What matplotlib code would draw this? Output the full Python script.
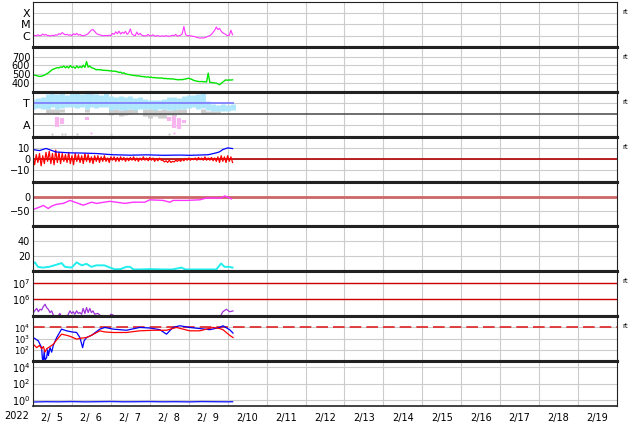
import numpy as np
import matplotlib.pyplot as plt
from matplotlib.ticker import NullLocator

nan = np.nan

# hourly time axis, hours since 2022-02-05 00:00
hours = np.arange(124)

# GOES X-ray flux, in units of 1e-6 W/m2 (C1 = 1)
xray_c = [1.0, 1.1, 0.95, 1.2, 1.0, 1.05, 1.4, 1.1, 1.3, 1.0,
          1.0, 0.95, 1.1, 1.0, 1.2, 1.1, 1.5, 1.3, 1.9, 1.4,
          1.2, 1.3, 1.1, 1.2, 1.0, 1.5, 1.2, 1.6, 1.1, 1.3,
          1.0, 1.0, 1.1, 1.2, 1.5, 2.2, 3.2, 3.5, 2.4, 1.6,
          1.3, 1.2, 1.1, 1.0, 1.0, 1.05, 1.0, 1.1, 1.0, 1.6,
          1.3, 2.2, 1.5, 2.5, 1.4, 2.0, 1.6, 2.4, 1.3, 1.8,
          4.0, 1.4, 1.1, 1.0, 2.1, 1.2, 1.6, 1.1, 1.0, 0.95,
          1.0, 1.3, 0.95, 1.0, 1.2, 0.9, 0.95, 1.0, 0.9, 0.9,
          0.95, 0.9, 1.0, 0.9, 0.9, 0.95, 1.1, 1.0, 1.3, 0.9,
          1.0, 1.1, 1.5, 6.5, 1.3, 1.0, 1.0, 0.95, 0.9, 0.85,
          0.8, 0.7, 0.65, 0.6, 0.65, 0.6, 0.7, 0.75, 0.9, 1.0,
          1.3, 2.0, 3.0, 6.0, 3.5, 4.5, 2.5, 1.8, 1.5, 1.2,
          1.0, 1.1, 3.0, 1.2]

# solar wind speed (km/s)
speed = [489, 485, 480, 475, 470, 472, 478, 485, 495, 505,
         520, 535, 550, 557, 565, 572, 568, 580, 575, 590,
         570, 585, 568, 595, 575, 580, 565, 590, 570, 585,
         572, 600, 575, 641, 578, 590, 572, 565, 558, 546,
         550, 545, 548, 540, 542, 538, 540, 534, 536, 530,
         532, 528, 525, 515, 520, 505, 512, 500, 495, 492,
         489, 485, 482, 480, 476, 478, 472, 470, 468, 465,
         462, 465, 458, 462, 455, 458, 452, 455, 450, 452,
         450, 445, 448, 442, 445, 440, 443, 438, 435, 433,
         431, 435, 432, 438, 440, 445, 450, 442, 435, 425,
         420, 415, 412, 410, 412, 408, 410, 405, 508, 402,
         400, 398, 395, 393, 385, 374, 390, 405, 420, 431,
         425, 430, 428, 431]

# IMF sector (T / A), 3-hour bins: range of the scattered points
sector_t = np.arange(0, 124, 3)
toward_lo = [0.5, 0.55, 0.5, 0.45, 0.6, 0.5, 0.55, 0.6, 0.65, 0.55, 0.6, 0.5, 0.6, 0.55, 0.65, 0.6,
             0.4, 0.45, 0.35, 0.4, 0.45, 0.4, 0.5, 0.45, 0.45, 0.4, 0.5, 0.45, 0.4, 0.35, 0.45, 0.5,
             0.55, 0.6, 0.5, 0.55, 0.35, 0.3, 0.25, 0.3, 0.3, 0.35]
toward_hi = [1.4, 1.45, 1.5, 1.8, 1.85, 1.8, 1.9, 1.75, 1.85, 1.9, 1.8, 1.85, 1.9, 1.8, 1.75, 1.85,
             1.6, 1.55, 1.65, 1.5, 1.6, 1.45, 1.5, 1.35, 1.3, 1.25, 1.3, 1.35, 1.5, 1.55, 1.45, 1.6,
             1.75, 1.7, 1.8, 1.85, 1.2, 0.9, 0.85, 0.9, 0.85, 0.9]
gray_lo = [nan, nan, nan, 0.1, 0.1, 0.0, 0.2, nan, nan, nan, nan, 0.2, nan, nan, nan, nan,
           -0.1, 0.0, -0.2, -0.1, 0.0, 0.1, nan, -0.2, -0.3, -0.2, -0.35, -0.3, -0.1, -0.2, 0.0, 0.1,
           nan, nan, nan, 0.0, 0.05, 0.0, 0.1, nan, nan, nan]
gray_hi = [nan, nan, nan, 0.5, 0.5, 0.45, 0.5, nan, nan, nan, nan, 0.5, nan, nan, nan, nan,
           0.45, 0.5, 0.4, 0.45, 0.5, 0.45, nan, 0.45, 0.45, 0.5, 0.4, 0.45, 0.4, 0.45, 0.45, 0.5,
           nan, nan, nan, 0.5, 0.3, 0.3, 0.3, nan, nan, nan]
away_lo = [nan] * 42
away_hi = [nan] * 42
for i, lo, hi in [(5, -1.1, -0.25), (6, -0.9, -0.3), (11, -0.5, -0.25), (28, -0.6, -0.25),
                  (29, -1.2, -0.2), (30, -1.3, -0.35), (31, -0.8, -0.5)]:
    away_lo[i] = lo
    away_hi[i] = hi
dots_t = [12, 18, 20, 27, 48, 84, 14, 24, 30, 39, 45, 60]
dots_v = [-1.75, -1.75, -1.75, -1.75, -1.75, -1.75, 1.95, 1.95, 1.95, 1.95, 1.95, 1.95]
pink_dots_t = [36, 87, 36]
pink_dots_v = [-1.65, -1.65, 1.9]

# IMF Bt and Bz (nT)
bt_t = [0, 4, 8, 10, 14, 18, 22, 30, 39, 49, 60, 70, 80, 90, 97, 104, 108, 113, 115, 117, 120, 123]
bt = [8.5, 7.6, 9.5, 8.5, 6.4, 6.0, 5.6, 5.4, 5.0, 3.9, 3.5, 3.8, 3.4, 3.6, 3.4, 3.7, 3.9, 5.6, 6.5, 8.5, 10, 9.4]
bz = [2, -5, 4, -3, 5, -6, 3, -4, 6, -2,
      7, -4, 5, -5, 8, -3, 6, -4, 5, -2,
      4, -3, 6, -4, 3, -5, 5, -2, 4, -3,
      3, -4, 5, -2, 4, -3, 2, -4, 3, -2,
      3, -3, 2, -2, 3, -2, 1, -3, 2, -1,
      2, -2, 1.5, -2, 2, -1, 1.5, -2, 1, -1.5,
      1.5, -1, 2, -1.5, 1, -2, 1, -1, 2, -1,
      1, -1.5, 1.5, -1, 1, -2, 0.5, -1.5, 1, -1,
      -1, -2.5, -1.5, -3, -1, -3, -2, -2.5, -1, -2,
      -0.5, -2, 0, -1.5, 0.5, -1, 1, -1, 0.5, -0.5,
      1, -1, 1.5, -0.5, 1, -1, 2, -1, 1, -1,
      1.5, -1.5, 1, -2, 2, -3, 3, -2, 2, -3,
      3, -2, 2, -3]

# Dst index (nT)
dst_t = [0.2, 3.3, 6.4, 9.4, 11.5, 14.6, 18.7, 22.8, 26.9, 31, 36.1, 39.2, 47.4, 51.5,
         56.6, 61.7, 68.9, 72, 80.2, 84.3, 86.4, 94.6, 102.8, 106.9, 116.1, 118.2, 120.2, 122.3]
dst = [-43, -37, -30, -40, -32, -26, -23, -13, -21, -29, -19, -23, -16, -19,
       -23, -19, -19, -11, -13, -19, -13, -13, -11, -5, -5, 2, -2, -8]

# proton density (/cc)
dens_t = [0, 1.2, 3, 6, 10, 14.6, 17.6, 19.7, 23.8, 26.9, 30, 33, 36, 39, 44, 47.4, 50.5,
          54, 57.6, 59.7, 62, 66, 72, 80, 86, 91.5, 94, 100, 108, 113, 116, 118, 121, 123]
dens = [10, 12, 6, 5, 6, 9, 11, 6, 5, 12, 8, 10, 6, 8, 8, 5, 2.7,
        3, 6, 6, 2.5, 2.5, 3, 2.5, 2.5, 5, 2.5, 2.5, 2.5, 2.5, 10.5, 6, 6, 5]

# electron fluence, log10
fluence_t = [0, 1, 2.3, 3.3, 4.3, 5.3, 6.3, 7.4, 8.4, 9.4, 10.5, 11.5, 12.5, 14.6, 16.6, 17.6,
             20.7, 22.8, 23.8, 24.8, 25.8, 26.9, 27.9, 28.9, 30, 30.9, 32, 33, 34, 35, 36, 37,
             38, 40, 41.2, 43, 47, 48, 49.4, 50.5, 56, 112, 115.1, 117, 119.2, 121.2, 123.3]
fluence_log = [5.15, 5.3, 5.45, 5.25, 5.4, 5.35, 5.55, 5.7, 5.5, 5.4, 5.2, 5.3, 5.05, 4.9, 5.15, 4.9,
               4.9, 5.3, 5.15, 5.25, 5.1, 5.3, 5.15, 5.2, 5.1, 5.45, 5.15, 5.5, 5.2, 5.45, 5.2, 5.3,
               5.1, 5.15, 5.05, 4.9, 4.9, 5.1, 5.05, 4.9, 4.5, 4.5, 4.9, 5.25, 5.4, 5.25, 5.3]

# electron flux, log10 (two satellites)
eflux_red_t = [0.2, 2.3, 4, 5.3, 6.4, 7.4, 8.4, 10.5, 12.5, 14.6, 17.6, 20.7, 23, 26.9, 30, 33,
               36, 41.2, 44.3, 49.4, 57.6, 65.8, 74, 82.3, 88.4, 96.6, 102.8, 111, 115.1, 117.1,
               121.2, 123.3]
eflux_red = [2.5, 2.2, 2.4, 2.1, 2.3, 1.8, 2.1, 2.3, 2.5, 2.9, 3.4, 3.3, 3.2, 2.96, 3.05, 3.1,
             3.3, 3.7, 3.6, 3.55, 3.55, 3.7, 3.75, 3.75, 4.0, 3.7, 3.7, 4.0, 3.9, 3.8,
             3.3, 3.1]
eflux_blue_t = [0.2, 2.3, 3.3, 4.3, 5.3, 5.8, 6.4, 6.9, 7.4, 8.4, 9.0, 9.5, 10.5, 11.5, 12.5,
                14.6, 17.6, 20.7, 24, 26.9, 28.9, 30.6, 31.5, 33, 36.1, 41.2, 44.3, 49.4, 57.6,
                65.8, 72, 78.2, 82.3, 86.3, 90.5, 96.6, 102.8, 108.9, 115.1, 117.1, 121.2, 123.3]
eflux_blue = [3.1, 2.9, 2.8, 2.5, 2.2, 1.2, 1.0, 1.9, 1.1, 1.3, 2.0, 1.5, 2.2, 1.8, 2.4,
              3.1, 3.85, 3.7, 3.6, 3.55, 3.1, 2.2, 2.8, 3.1, 3.3, 3.85, 4.0, 3.85, 3.75,
              4.0, 3.95, 3.8, 3.4, 4.0, 4.15, 4.0, 3.9, 3.8, 4.0, 4.15, 3.8, 3.5]

# bottom panel
low_t = [0, 8, 16, 24, 32, 40, 48, 56, 64, 72, 80, 88, 96, 104, 112, 120, 123]
low = [0.55, 0.6, 0.58, 0.62, 0.57, 0.6, 0.63, 0.58, 0.6, 0.62, 0.58, 0.6, 0.57, 0.62, 0.6, 0.58, 0.6]

days = list(range(5, 20))
day_labels = ['2/' + ('\u2007' + str(d) if d < 10 else str(d)) for d in days]

W, H = 634, 424
fig = plt.figure(figsize=(W / 100, H / 100), dpi=100)
top_px, bot_px = 2, 406
ph = (bot_px - top_px) / 9
axes = []
for i in range(9):
    y0 = 1 - (top_px + (i + 1) * ph) / H
    ax = fig.add_axes([33 / W, y0, 584 / W, ph / H])
    ax.set_xlim(0, 360)
    ax.set_xticks(np.arange(12, 360, 24))
    ax.set_xticks(np.arange(24, 360, 24), minor=True)
    ax.tick_params(which='both', length=0, labelsize=7, pad=2)
    ax.xaxis.grid(True, which='minor', color='#cccccc', lw=0.8)
    ax.yaxis.grid(True, which='major', color='#cccccc', lw=0.8)
    ax.set_axisbelow(True)
    if i < 8:
        ax.set_xticklabels([])
    else:
        ax.set_xticklabels(day_labels)
        ax.tick_params(axis='x', pad=5)
    for s in ['left', 'right']:
        ax.spines[s].set_linewidth(0.8)
    ax.spines['top'].set_linewidth(2.2 if i > 0 else 0.8)
    ax.spines['bottom'].set_linewidth(2.2 if i < 8 else 1.2)
    for s in ax.spines.values():
        s.set_color('#222222')
    axes.append(ax)

# 1: X-ray
ax = axes[0]
ax.set_yscale('log')
ax.plot(hours, np.array(xray_c) * 1e-6, color='#ff33ff', lw=0.8)
ax.set_ylim(1e-7, 1e-3)
ax.set_yticks([1e-6, 1e-5, 1e-4])
ax.set_yticklabels(['C', 'M', 'X'], fontsize=8)
ax.yaxis.set_minor_locator(NullLocator())

# 2: speed
ax = axes[1]
ax.plot(hours, speed, color='#00e600', lw=1.0)
ax.set_ylim(293, 811)
ax.set_yticks([400, 500, 600, 700])

# 3: sector
ax = axes[2]
ax.vlines(sector_t, gray_lo, gray_hi, color='#cccccc', lw=3.5)
ax.vlines(sector_t, toward_lo, toward_hi, color='#aee6fb', lw=3.5)
ax.vlines(sector_t, away_lo, away_hi, color='#f8b4ef', lw=3.0)
ax.plot(dots_t, dots_v, 's', ms=1.5, color='#cccccc', mec='none')
ax.plot(pink_dots_t, pink_dots_v, 's', ms=1.5, color='#f8b4ef', mec='none')
ax.axhline(0, color='#555555', lw=1.2)
ax.plot([0, 123], [1, 1], color='#8080ff', lw=1.3)
ax.set_ylim(-2, 2)
ax.set_yticks([1, -1])
ax.set_yticklabels(['T', 'A'], fontsize=8)

# 4: IMF
ax = axes[3]
ax.axhline(0, color='#b00000', lw=1.2)
ax.plot(hours, bz, color='#ff0000', lw=0.9)
ax.plot(bt_t, bt, color='#0000ff', lw=0.9)
ax.set_ylim(-20, 20)
ax.set_yticks([10, 0, -10])

# 5: Dst
ax = axes[4]
ax.axhline(0, color='#cc6666', lw=2.0)
ax.plot(dst_t, dst, color='#ff33ff', lw=1.0)
ax.set_ylim(-100, 50)
ax.set_yticks([0, -50])

# 6: density
ax = axes[5]
ax.plot(dens_t, dens, color='#22eeee', lw=1.4)
ax.set_ylim(0, 60)
ax.set_yticks([20, 40])

# 7: fluence
ax = axes[6]
ax.set_yscale('log')
ax.axhline(1e6, color='#cc0000', lw=1.0)
ax.axhline(1e7, color='#cc0000', lw=1.0)
ax.plot(fluence_t, 10 ** np.array(fluence_log), color='#a030d8', lw=0.9)
ax.set_ylim(10 ** 4.98, 10 ** 7.68)
ax.set_yticks([1e6, 1e7])
ax.yaxis.set_minor_locator(NullLocator())

# 8: electron flux
ax = axes[7]
ax.set_yscale('log')
ax.axhline(1e4, color='#dd2222', lw=1.2, dashes=(7, 3))
ax.plot(eflux_blue_t, 10 ** np.array(eflux_blue), color='#0000ff', lw=0.9)
ax.plot(eflux_red_t, 10 ** np.array(eflux_red), color='#ff0000', lw=0.9)
ax.set_ylim(1e1, 1e5)
ax.set_yticks([1e2, 1e3, 1e4])
ax.tick_params(axis='y', labelsize=6)
ax.yaxis.set_minor_locator(NullLocator())

# 9: bottom
ax = axes[8]
ax.set_yscale('log')
ax.plot(low_t, low, color='#2222ff', lw=1.0)
ax.set_ylim(10 ** -0.75, 10 ** 4.75)
ax.set_yticks([1e0, 1e2, 1e4])
ax.yaxis.set_minor_locator(NullLocator())

for i in [0, 1, 2, 3, 6, 7]:
    axes[i].text(1.01, 0.78, 'rt', transform=axes[i].transAxes, fontsize=5, va='center')

fig.text(17 / W, 1 - 416 / H, '2022', ha='center', va='center', fontsize=7)

fig.savefig('out.png', dpi=100)
